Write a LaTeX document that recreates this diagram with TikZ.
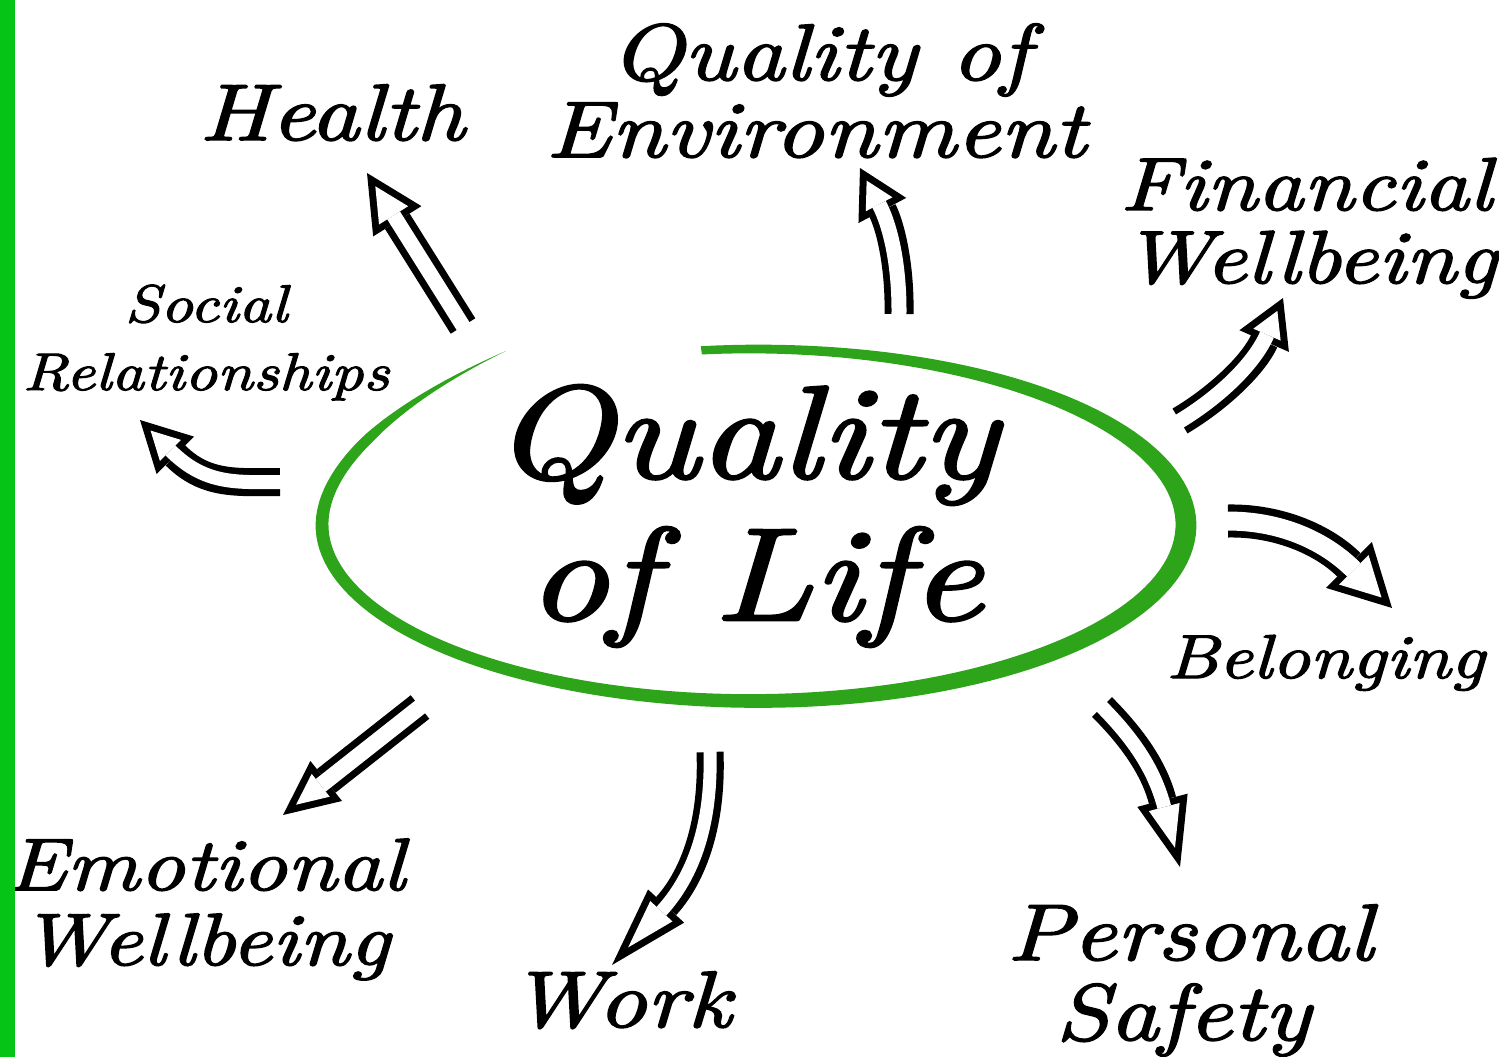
\documentclass[tikz,border=0pt]{standalone}
\usepackage{fontspec}
\usetikzlibrary{arrows.meta}

\newfontfamily\handfont{lmroman10-italic.otf}[FakeStretch=1.2,FakeBold=2]
\definecolor{barGreen}{RGB}{6,196,22}
\definecolor{ringGreen}{RGB}{46,164,26}

\tikzset{
  lbl/.style={font=\handfont\fontsize{80}{80}\selectfont, inner sep=0pt},
  big/.style={font=\handfont\fontsize{132}{132}\selectfont, inner sep=0pt},
  % head length, head width, gap between the two shaft lines
  hollow/.style n args={3}{
    /utils/exec={
      \pgfmathsetmacro\outw{#3+7}
      \pgfmathsetmacro\inw{#3-7}
      \pgfmathsetmacro\tipoff{7/sin(atan(#2/(2*#1)))}
      \pgfmathsetmacro\inlen{#1-7-\tipoff}
      \pgfmathsetmacro\inwid{\inlen*#2/#1}},
    draw=black, line width=\outw pt,
    -{Triangle[length=#1pt, width=#2pt, line width=0pt]},
    postaction={draw=white, line width=\inw pt, shorten <=-4pt, shorten >=\tipoff pt,
      -{Triangle[length=\inlen pt, width=\inwid pt, line width=0pt]}}
  }
}

\begin{document}
\begin{tikzpicture}[x=1pt, y=-1pt,
  declare function={hh(\t)=(7+2*cos(\t)+1.25*sin(\t)+1.4*cos(2*\t))*min(1,(235-\t)/28);
                    lf(\t)=-30*(\t>180)*((\t-180)/55)^2;}]
  \useasboundingbox (0,0) rectangle (1499,1057);
  \fill[white] (0,0) rectangle (1499,1057);
  \clip (0,0) rectangle (1499,1057);

  % the green ring
  \fill[ringGreen] plot[domain=235:-97, samples=160] ({754+(432+hh(\x))*cos(\x)}, {525+(176+hh(\x))*sin(\x)+lf(\x)})
    -- plot[domain=-97:235, samples=160] ({754+(432-hh(\x))*cos(\x)}, {525+(176-hh(\x))*sin(\x)+lf(\x)}) -- cycle;

  \node[big, anchor=base] (qolA) at (745,478) {Quality};
  \node[big, anchor=base] (qolB) at (755,620) {of Life};

  \node[lbl, anchor=base] (hlth) at (332,140) {Health};
  \node[lbl, anchor=base] (envA) at (820,80) {Quality of};
  \node[lbl, anchor=base] (envB) at (816,157) {Environment};
  \node[lbl, font=\handfont\fontsize{75}{75}\selectfont, anchor=base west] (finA) at (1120,210) {Financial};
  \node[lbl, font=\handfont\fontsize{75}{75}\selectfont, anchor=base west] (finB) at (1122,283) {Wellbeing};
  \node[lbl, font=\handfont\fontsize{53}{53}\selectfont, anchor=base] (socA) at (206,322) {Social};
  \node[lbl, font=\handfont\fontsize{53}{53}\selectfont, anchor=base] (socB) at (206,390) {Relationships};
  \node[lbl, font=\handfont\fontsize{62}{62}\selectfont, anchor=base west] (blng) at (1166,678) {Belonging};
  \node[lbl, font=\handfont\fontsize{74}{74}\selectfont, anchor=base east] (emoA) at (405,890) {Emotional};
  \node[lbl, font=\handfont\fontsize{74}{74}\selectfont, anchor=base east] (emoB) at (390,965) {Wellbeing};
  \node[lbl, anchor=base] (work) at (620,1027) {Work};
  \node[lbl, anchor=base] (persA) at (1190,960) {Personal};
  \node[lbl, anchor=base] (persB) at (1183,1040) {Safety};

  % arrows
  \coordinate (hlTail) at (463,326);
  \coordinate (hlTip) at (367,173);
  \coordinate (envTail) at (899,314);
  \coordinate (envTip) at (860,168);
  \coordinate (finTail) at (1180,421);
  \coordinate (finTip) at (1283,298);
  \coordinate (belTail) at (1228,521);
  \coordinate (belTip) at (1392,608);
  \coordinate (psTail) at (1102,707);
  \coordinate (psTip) at (1180,867);
  \coordinate (wkTail) at (710,752);
  \coordinate (wkTip) at (612,965);
  \coordinate (emTail) at (420,707);
  \coordinate (emTip) at (283,815);
  \coordinate (soTail) at (280,482);
  \coordinate (soTip) at (140,420);

  \draw[hollow={57}{57}{22}] (hlTail) -- (hlTip);
  \draw[hollow={48}{54}{22}] (envTail) .. controls (900,265) and (890,225) .. (envTip);
  \draw[hollow={47}{54}{22}] (finTail) .. controls (1222,396) and (1255,362) .. (finTip);
  \draw[hollow={61}{65}{26}] (belTail) .. controls (1280,520) and (1325,541) .. (belTip);
  \draw[hollow={69}{52}{21}] (psTail) .. controls (1132,737) and (1154,768) .. (psTip);
  \draw[hollow={80}{49}{20}] (wkTail) .. controls (713,830) and (690,880) .. (wkTip);
  \draw[hollow={55}{51}{23}] (emTail) -- (emTip);
  \draw[hollow={50}{53}{21}] (soTail) .. controls (238,482) and (206,486) .. (soTip);

  \fill[barGreen] (0,0) rectangle (15,1057);
\end{tikzpicture}
\end{document}
